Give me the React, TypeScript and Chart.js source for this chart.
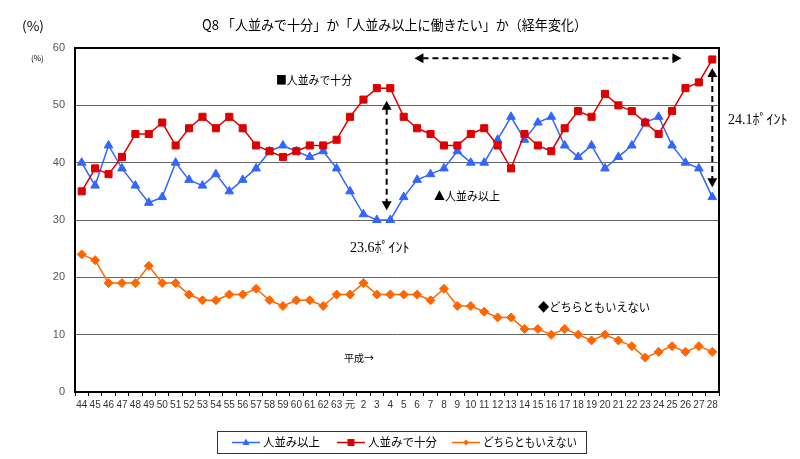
import React, { useEffect, useRef } from "react";
import { Chart, registerables } from "chart.js";

Chart.register(...registerables);

// ---- data ----
const years = [
  "44", "45", "46", "47", "48", "49", "50", "51", "52", "53", "54", "55", "56", "57", "58", "59", "60", "61", "62", "63",
  "元", "2", "3", "4", "5", "6", "7", "8", "9", "10", "11", "12", "13", "14", "15", "16", "17", "18", "19", "20",
  "21", "22", "23", "24", "25", "26", "27", "28",
];
// 人並み以上
const aboveAverage = [
  40, 36, 43, 39, 36, 33, 34, 40, 37, 36, 38, 35, 37, 39, 42, 43, 42, 41, 42, 39,
  35, 31, 30, 30, 34, 37, 38, 39, 42, 40, 40, 44, 48, 44, 47, 48, 43, 41, 43, 39,
  41, 43, 47, 48, 43, 40, 39, 34,
];
// 人並みで十分
const averageEnough = [
  35, 39, 38, 41, 45, 45, 47, 43, 46, 48, 46, 48, 46, 43, 42, 41, 42, 43, 43, 44,
  48, 51, 53, 53, 48, 46, 45, 43, 43, 45, 46, 43, 39, 45, 43, 42, 46, 49, 48, 52,
  50, 49, 47, 45, 49, 53, 54, 58,
];
// どちらともいえない
const neither = [
  24, 23, 19, 19, 19, 22, 19, 19, 17, 16, 16, 17, 17, 18, 16, 15, 16, 16, 15, 17,
  17, 19, 17, 17, 17, 17, 16, 18, 15, 15, 14, 13, 13, 11, 11, 10, 11, 10, 9, 10,
  9, 8, 6, 7, 8, 7, 8, 7,
];
const yMin = 0;
const yMax = 60;
const yStep = 10;

const seriesNames = ["人並み以上", "人並みで十分", "どちらともいえない"];
const BLUE = "#3366FF";
const RED = "#DD0000";
const ORANGE = "#FF6600";
const JP = "'Noto Sans CJK JP', sans-serif";

function fitText(ctx: CanvasRenderingContext2D, text: string, x: number, y: number, width: number) {
  const w = ctx.measureText(text).width;
  ctx.save();
  ctx.translate(x, y);
  ctx.scale(width / w, 1);
  ctx.fillText(text, 0, 0);
  ctx.restore();
}

function arrowHead(ctx: CanvasRenderingContext2D, x: number, y: number, ang: number) {
  const len = 9;
  const hw = 5;
  const bx = x - Math.cos(ang) * len;
  const by = y - Math.sin(ang) * len;
  ctx.beginPath();
  ctx.moveTo(x, y);
  ctx.lineTo(bx + Math.cos(ang + Math.PI / 2) * hw, by + Math.sin(ang + Math.PI / 2) * hw);
  ctx.lineTo(bx - Math.cos(ang + Math.PI / 2) * hw, by - Math.sin(ang + Math.PI / 2) * hw);
  ctx.closePath();
  ctx.fill();
}

function dashedArrow(ctx: CanvasRenderingContext2D, x1: number, y1: number, x2: number, y2: number) {
  const ang = Math.atan2(y2 - y1, x2 - x1);
  const c = Math.cos(ang) * 8;
  const s = Math.sin(ang) * 8;
  ctx.save();
  ctx.strokeStyle = "#000";
  ctx.fillStyle = "#000";
  ctx.lineWidth = 2;
  ctx.setLineDash([6, 4]);
  ctx.beginPath();
  ctx.moveTo(x1 + c, y1 + s);
  ctx.lineTo(x2 - c, y2 - s);
  ctx.stroke();
  ctx.setLineDash([]);
  arrowHead(ctx, x2, y2, ang);
  arrowHead(ctx, x1, y1, ang + Math.PI);
  ctx.restore();
}

function marker(ctx: CanvasRenderingContext2D, kind: string, x: number, y: number, color: string) {
  ctx.fillStyle = color;
  ctx.beginPath();
  if (kind === "triangle") {
    ctx.moveTo(x, y - 4);
    ctx.lineTo(x + 3.5, y + 2.5);
    ctx.lineTo(x - 3.5, y + 2.5);
  } else if (kind === "rect") {
    ctx.rect(x - 3.5, y - 3.5, 7, 7);
  } else {
    ctx.moveTo(x, y - 3);
    ctx.lineTo(x + 3, y);
    ctx.lineTo(x, y + 3);
    ctx.lineTo(x - 3, y);
  }
  ctx.closePath();
  ctx.fill();
}

const decorPlugin = {
  id: "decor",
  beforeDatasetsDraw(chart: any) {
    const { ctx, chartArea } = chart;
    ctx.save();
    ctx.strokeStyle = "#000";
    ctx.lineWidth = 2;
    ctx.strokeRect(chartArea.left, chartArea.top, chartArea.right - chartArea.left, chartArea.bottom - chartArea.top);
    ctx.restore();
  },
  afterDraw(chart: any) {
    const { ctx } = chart;
    const xs = chart.scales.x;
    const ys = chart.scales.y;
    const px = (i: number) => {
      const a = xs.getPixelForValue(Math.floor(i));
      const b = xs.getPixelForValue(Math.floor(i) + 1);
      return a + (b - a) * (i - Math.floor(i));
    };
    const py = (v: number) => ys.getPixelForValue(v);

    ctx.save();
    ctx.fillStyle = "#000";
    ctx.textBaseline = "middle";
    ctx.textAlign = "left";

    // title
    ctx.font = `14px ${JP}`;
    fitText(ctx, "Q8 「人並みで十分」か「人並み以上に働きたい」か（経年変化）", 202, 25, 385);

    ctx.font = `13px ${JP}`;
    fitText(ctx, "(%)", 22, 26, 22);
    ctx.font = `8px ${JP}`;
    ctx.fillText("(%)", 31, 58);

    // annotations text
    ctx.font = `12px ${JP}`;
    fitText(ctx, "■人並みで十分", 276, 80, 76);
    fitText(ctx, "▲人並み以上", 434, 196, 66);
    fitText(ctx, "◆どちらともいえない", 538, 307, 112);
    ctx.font = `10px ${JP}`;
    ctx.fillText("平成→", 344, 358);
    ctx.font = `14px 'Liberation Serif', 'Noto Sans CJK JP', serif`;
    ctx.fillText("23.6ﾎﾟｲﾝﾄ", 350, 248);
    ctx.fillText("24.1ﾎﾟｲﾝﾄ", 728, 120);

    // arrows
    dashedArrow(ctx, px(22.73), py(50.8), px(22.73), py(31.7));
    dashedArrow(ctx, px(24.8), py(58.2), px(44.7), py(58.2));
    dashedArrow(ctx, px(47), py(56.5), px(47), py(35.7));

    // legend
    ctx.strokeStyle = "#333";
    ctx.lineWidth = 1;
    ctx.strokeRect(217.5, 431.5, 369, 22);
    const items = [
      { x: 232, color: BLUE, kind: "triangle", text: seriesNames[0], w: 57 },
      { x: 337, color: RED, kind: "rect", text: seriesNames[1], w: 69 },
      { x: 452, color: ORANGE, kind: "diamond", text: seriesNames[2], w: 94 },
    ];
    const ly = 442.5;
    ctx.font = `12px ${JP}`;
    items.forEach((it) => {
      ctx.strokeStyle = it.color;
      ctx.lineWidth = 1.5;
      ctx.beginPath();
      ctx.moveTo(it.x, ly);
      ctx.lineTo(it.x + 28, ly);
      ctx.stroke();
      marker(ctx, it.kind, it.x + 14, ly, it.color);
      ctx.fillStyle = "#000";
      fitText(ctx, it.text, it.x + 31, ly, it.w);
    });
    ctx.restore();
  },
};

export default function App() {
  const ref = useRef<HTMLCanvasElement | null>(null);
  useEffect(() => {
    if (!ref.current) return;
    const chart = new Chart(ref.current, {
      type: "line",
      data: {
        labels: years,
        datasets: [
          {
            label: seriesNames[1],
            data: averageEnough,
            borderColor: RED,
            backgroundColor: RED,
            borderWidth: 1.5,
            pointStyle: "rect",
            pointRadius: 5,
            pointBorderWidth: 1,
            tension: 0,
          },
          {
            label: seriesNames[0],
            data: aboveAverage,
            borderColor: BLUE,
            backgroundColor: BLUE,
            borderWidth: 1.5,
            pointStyle: "triangle",
            pointRadius: 5,
            pointBorderWidth: 1,
            tension: 0,
          },
          {
            label: seriesNames[2],
            data: neither,
            borderColor: ORANGE,
            backgroundColor: ORANGE,
            borderWidth: 1.5,
            pointStyle: "rectRot",
            pointRadius: 4.5,
            pointBorderWidth: 1,
            tension: 0,
          },
        ],
      },
      options: {
        responsive: false,
        animation: false,
        devicePixelRatio: 1,
        layout: { padding: { top: 48, right: 81, left: 0, bottom: 0 } },
        plugins: { legend: { display: false }, title: { display: false }, tooltip: { enabled: false } },
        scales: {
          x: {
            offset: true,
            grid: { offset: true, drawOnChartArea: false, drawTicks: true, tickLength: 4, color: "#000" },
            border: { display: true, color: "#000", width: 2 },
            ticks: {
              autoSkip: false,
              maxRotation: 0,
              minRotation: 0,
              color: "#333",
              padding: 3,
              font: { size: 10, family: "'Liberation Sans', 'Noto Sans CJK JP', sans-serif" },
            },
            afterFit: (s: any) => {
              s.height = 67;
            },
          },
          y: {
            min: yMin,
            max: yMax,
            ticks: {
              stepSize: yStep,
              color: "#555",
              padding: 10,
              font: { size: 11, family: "'Liberation Sans', sans-serif" },
            },
            grid: { color: "#666", lineWidth: 1, drawTicks: false },
            border: { display: true, color: "#000", width: 2 },
            afterFit: (s: any) => {
              s.width = 75;
            },
          },
        },
      },
      plugins: [decorPlugin],
    } as any);
    return () => chart.destroy();
  }, []);
  return (
    <div style={{ position: "absolute", left: 0, top: 0, width: 800, height: 459, background: "#fff" }}>
      <canvas ref={ref} width={800} height={459} />
    </div>
  );
}
